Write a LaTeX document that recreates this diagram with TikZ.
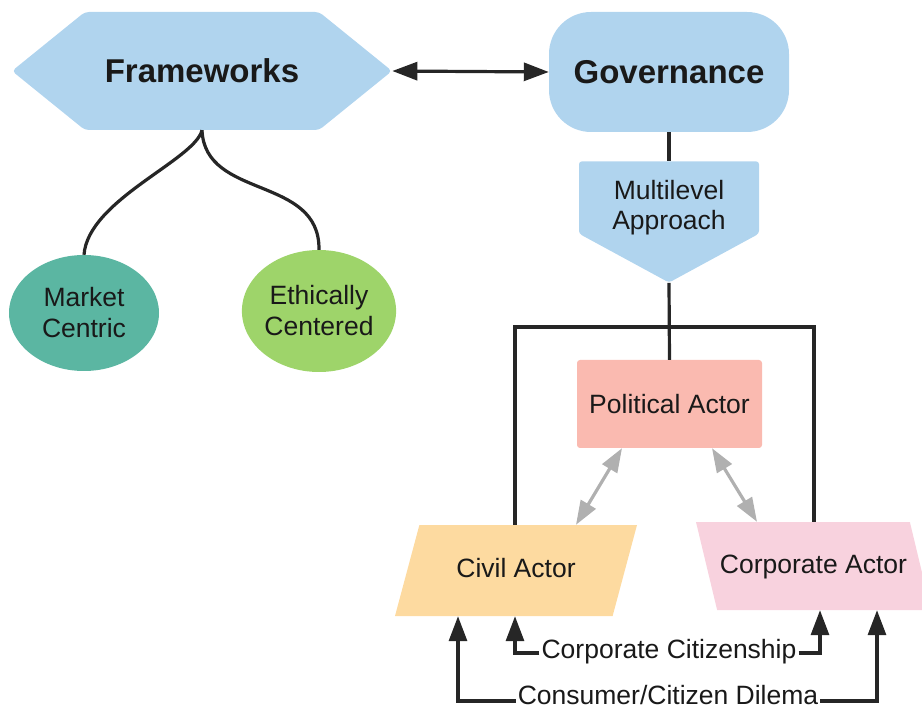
\documentclass[tikz,border=0pt]{standalone}
\usepackage{fontspec}
\setmainfont{Liberation Sans}
\usetikzlibrary{shapes.geometric,shapes.symbols,arrows.meta}

\definecolor{skyblue}{RGB}{176,212,238}
\definecolor{teal}{RGB}{91,182,162}
\definecolor{leaf}{RGB}{158,212,106}
\definecolor{salmon}{RGB}{250,186,176}
\definecolor{peach}{RGB}{253,218,160}
\definecolor{blush}{RGB}{248,210,222}
\definecolor{linegrey}{RGB}{176,176,176}

\begin{document}
\begin{tikzpicture}[x=1pt, y=-1pt,
  txt/.style={font=\fontsize{26.5}{31}\selectfont, align=center, text=black!90},
  head/.style={font=\bfseries\fontsize{33}{38}\selectfont, text=black!90},
  link/.style={line width=3.2pt, draw=black!85},
  tip/.style={-{Triangle[length=25pt,width=18pt]}},
  twotip/.style={{Triangle[length=25pt,width=18pt]}-{Triangle[length=25pt,width=18pt]}},
  greyarr/.style={line width=3.2pt, draw=linegrey, {Triangle[length=24pt,width=17pt]}-{Triangle[length=24pt,width=17pt]}},
  blob/.style={txt, ellipse, inner sep=0pt},
  para/.style={font=\fontsize{26.5}{31}\selectfont, text=black!90, trapezium, trapezium stretches body,
               text height=20pt, text depth=6pt, inner xsep=0pt}]

  \useasboundingbox (0,0) rectangle (922,711);

  % top row
  \node[head, signal, signal to=west and east, signal pointer angle=78,
        fill=skyblue, rounded corners=4pt, minimum width=380pt, minimum height=118pt] (fw) at (202,71) {Frameworks};
  \node[head, rectangle, fill=skyblue, rounded corners=42pt,
        minimum width=240pt, minimum height=120pt] (gov) at (669,72) {Governance};
  \node[txt, font=\fontsize{26.5}{30}\selectfont, signal, signal to=south, signal from=nowhere, signal pointer angle=123,
        inner ysep=0pt, text depth=-4pt, fill=skyblue, rounded corners=3pt,
        minimum width=180pt, minimum height=105pt] (ml) at (669,197.5)
        {\rule{0pt}{34pt}Multilevel\\Approach};

  % framework types
  \node[blob, fill=teal, minimum width=150pt, minimum height=116pt] (mc) at (84,313) {Market\\Centric};
  \node[blob, fill=leaf, minimum width=148pt, minimum height=122pt] (ec) at (319,311) {Ethically\\Centered};

  % actors
  \node[txt, rectangle, fill=salmon, rounded corners=3pt,
        minimum width=185pt, minimum height=88pt] (pa) at (669.5,404) {Political Actor};
  \node[para, fill=peach, trapezium left angle=75, trapezium right angle=105,
        inner ysep=32.5pt, minimum width=242pt] (civ) at (516,570.5) {Civil Actor};
  \node[para, fill=blush, trapezium left angle=103.5, trapezium right angle=76.5,
        inner ysep=31pt, minimum width=235pt] (corp) at (813.5,566) {Corporate Actor};

  \coordinate (bar) at (669,327);
  \node[txt, fill=white, inner xsep=2pt, inner ysep=0pt] (cc) at (669,652) {Corporate Citizenship};
  \node[txt, fill=white, inner xsep=2pt, inner ysep=0pt] (cd) at (668,695) {Consumer/Citizen Dilema};

  % connectors
  \draw[link, twotip] (fw.east) -- (gov.west);
  \draw[link] (fw.south) .. controls (195,160) and (88,200) .. (mc.north);
  \draw[link] (fw.south) .. controls (205,200) and (320,175) .. (ec.north);
  \draw[link] (gov.south) -- (ml.north);
  \draw[link] (ml.south) -- (pa.north);
  \draw[link] (civ.north -| 515,0) |- (bar) -| (corp.north -| 814,0);

  \draw[greyarr] (pa.south -| 622,0) -- (civ.north -| 576,0);
  \draw[greyarr] (pa.south -| 712,0) -- (corp.north -| 757,0);

  \draw[link, tip] ([yshift=-1pt]cc.west) -| (civ.south -| 515,0);
  \draw[link, tip] ([yshift=-1pt]cc.east) -| (corp.south -| 820,0);
  \draw[link, tip] ([yshift=-6pt]cd.west) -| (civ.south -| 458,0);
  \draw[link, tip] ([yshift=-6pt]cd.east) -| (corp.south -| 877,0);
\end{tikzpicture}
\end{document}
